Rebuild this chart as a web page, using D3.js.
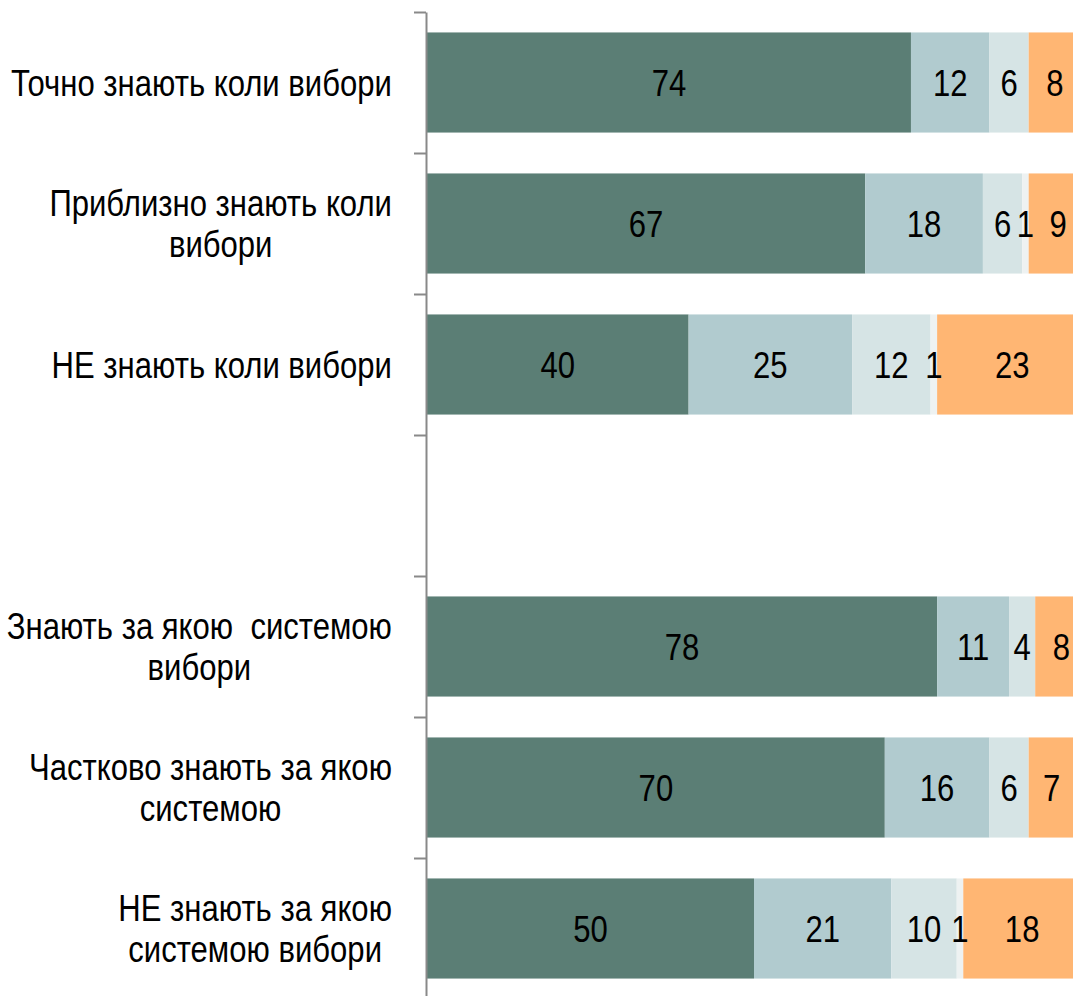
<!DOCTYPE html>
<html>
<head>
<meta charset="utf-8">
<script src="https://cdn.jsdelivr.net/npm/d3@7"></script>
<style>
  html, body { margin: 0; padding: 0; background: #fff; }
  svg { display: block; }
  text { font-family: "Liberation Sans Narrow", "Arial Narrow", "Liberation Sans", Arial, sans-serif; }
</style>
</head>
<body>
<svg id="chart" width="1073" height="996"></svg>
<script>
// Categories (empty string = spacer slot); "\n" marks a line break
const categories = [
  "Точно знають коли вибори",
  "Приблизно знають коли\nвибори",
  "НЕ знають коли вибори",
  "",
  "Знають за якою  системою\nвибори",
  "Частково знають за якою\nсистемою",
  "НЕ знають за якою\nсистемою вибори"
];
const seriesNames = ["s1", "s2", "s3", "s4", "s5"];
const series1 = [74, 67, 40, null, 78, 70, 50];
const series2 = [12, 18, 25, null, 11, 16, 21];
const series3 = [6, 6, 12, null, 4, 6, 10];
const series4 = [0, 1, 1, null, 0, 0, 1];
const series5 = [8, 9, 23, null, 8, 7, 18];
const colors = ["#5B7E75", "#B1CBCF", "#D6E4E5", "#EEF2F2", "#FFB673"];

const allSeries = [series1, series2, series3, series4, series5];
const rows = categories.map((c, i) => {
  const o = { key: i, cat: c, empty: series1[i] == null };
  seriesNames.forEach((s, j) => { o[s] = allSeries[j][i] || 0; });
  return o;
});

const svg = d3.select("#chart");
const axisX = 426;
const FS = 37;
const squeeze = 0.84; // emulate a narrow face
const x = d3.scaleLinear().domain([0, 100]).range([427, 1081]);
const y = d3.scaleBand().domain(d3.range(categories.length)).range([12, 999]).paddingInner(0.29).paddingOuter(0.145);
const yLin = d3.scaleLinear().domain([0, categories.length]).range([12, 999]);

const stack = d3.stack().keys(seriesNames);
const stacked = stack(rows.filter(r => !r.empty));

const g = svg.append("g");
stacked.forEach((layer, li) => {
  g.selectAll(null).data(layer).enter().append("rect")
    .attr("x", d => x(d[0]))
    .attr("width", d => x(d[1]) - x(d[0]))
    .attr("y", d => y(d.data.key))
    .attr("height", y.bandwidth())
    .attr("fill", colors[li]);
});
stacked.forEach((layer, li) => {
  g.selectAll(null).data(layer.filter(d => d[1] - d[0] > 0)).enter().append("text")
    .attr("transform", d => `translate(${(x(d[0]) + x(d[1])) / 2},${y(d.data.key) + y.bandwidth() / 2 + 13}) scale(${squeeze},1)`)
    .attr("text-anchor", "middle")
    .attr("font-size", FS)
    .attr("fill", "#000")
    .text(d => d[1] - d[0]);
});

// Axis
const axis = d3.axisLeft(yLin).tickValues(d3.range(0, categories.length + 1)).tickSize(12).tickSizeOuter(0).tickFormat("");
const ag = svg.append("g").attr("transform", `translate(${axisX},0)`).call(axis);
ag.select(".domain").attr("stroke", "#898989").attr("stroke-width", 2);
ag.selectAll(".tick line").attr("stroke", "#898989").attr("stroke-width", 2);

// Category labels
const lg = svg.append("g");
const lineH = 42;
rows.forEach(r => {
  if (!r.cat) return;
  const lines = r.cat.split("\n");
  const cy = y(r.key) + y.bandwidth() / 2;
  const t = lg.append("text").attr("font-size", FS).attr("fill", "#000").attr("text-anchor", "middle")
    .style("white-space", "pre");
  lines.forEach((ln, k) => {
    t.append("tspan").attr("x", 0).attr("y", 13 + (k - (lines.length - 1) / 2) * lineH).text(ln);
  });
  let maxW = 0;
  t.selectAll("tspan").each(function () { maxW = Math.max(maxW, this.getComputedTextLength()); });
  t.attr("transform", `translate(${392 - maxW * squeeze / 2},${cy}) scale(${squeeze},1)`);
});
</script>
</body>
</html>
